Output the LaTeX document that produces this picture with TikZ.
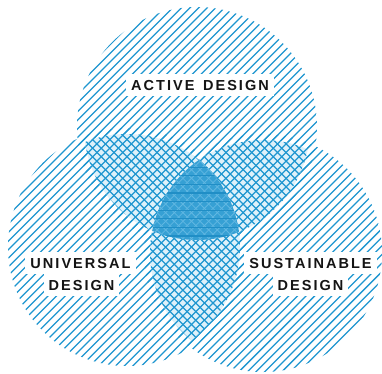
\documentclass[tikz,border=0pt]{standalone}
\usepackage{fontspec}
\newfontfamily\vennfont[LetterSpace=14]{Liberation Sans}
\definecolor{hatch}{RGB}{30,150,208}
\definecolor{lightfill}{RGB}{222,241,250}
\definecolor{darkfill}{RGB}{54,160,212}
\definecolor{darkline}{RGB}{32,142,198}
\definecolor{diamondline}{RGB}{96,183,226}
\definecolor{ink}{RGB}{20,20,20}
\tikzset{
  hatchline/.style={draw=hatch, line width=1.25pt},
  vennlabel/.style={fill=white, text=ink,
    font=\vennfont\bfseries\fontsize{14.5}{17}\selectfont,
    text height=10.5pt, text depth=0pt, inner xsep=5pt, inner ysep=5.5pt},
}
\newcommand\vennNE[1]{\foreach \i in {0,8.6,...,765} {\draw[#1] (\i,0) -- (\i-400,400);}}
\newcommand\vennNW[1]{\foreach \i in {-391,-382.4,...,390} {\draw[#1] (\i,0) -- (\i+400,400);}}
\begin{document}
\begin{tikzpicture}[x=1pt,y=-1pt]
  \useasboundingbox (0,0) rectangle (382,373);
  \fill[white] (0,0) rectangle (382,373);
  \coordinate (T) at (197,127);
  \coordinate (L) at (127,247);
  \coordinate (R) at (263,253);
  % single circles, diagonal hatching
  \begin{scope}\clip (T) circle[radius=120pt]; \vennNE{hatchline} \end{scope}
  \begin{scope}\clip (L) circle[radius=119pt]; \vennNE{hatchline} \end{scope}
  \begin{scope}\clip (R) circle[radius=119pt]; \vennNE{hatchline} \end{scope}
  % pairwise overlaps, cross-hatched
  \begin{scope}\clip (T) circle[radius=113pt]; \clip (L) circle[radius=113pt];
    \fill[lightfill] (0,0) rectangle (382,373); \vennNE{hatchline} \vennNW{hatchline} \end{scope}
  \begin{scope}\clip (T) circle[radius=113pt]; \clip (R) circle[radius=113pt];
    \fill[lightfill] (0,0) rectangle (382,373); \vennNE{hatchline} \vennNW{hatchline} \end{scope}
  \begin{scope}\clip (L) circle[radius=113pt]; \clip (R) circle[radius=113pt];
    \fill[lightfill] (0,0) rectangle (382,373); \vennNE{hatchline} \vennNW{hatchline} \end{scope}
  % triple overlap
  \begin{scope}\clip (T) circle[radius=113pt]; \clip (L) circle[radius=113pt]; \clip (R) circle[radius=113pt];
    \fill[darkfill] (0,0) rectangle (382,373);
    \vennNE{draw=diamondline, line width=0.8pt}
    \vennNW{draw=diamondline, line width=0.8pt}
    \foreach \j in {150,158.6,...,250} {\draw[darkline, line width=1.2pt] (100,\j) -- (300,\j);}
  \end{scope}
  % labels
  \node[vennlabel] (active) at (200,84.75) {ACTIVE\kern2.5pt\ DESIGN};
  \node[vennlabel] (univ1) at (80.5,262.75) {UNIVERSAL};
  \node[vennlabel] (univ2) at (81.5,284.75) {DESIGN};
  \node[vennlabel] (sust1) at (310.5,262.75) {SUSTAINABLE};
  \node[vennlabel] (sust2) at (310.5,284.75) {DESIGN};
\end{tikzpicture}
\end{document}
